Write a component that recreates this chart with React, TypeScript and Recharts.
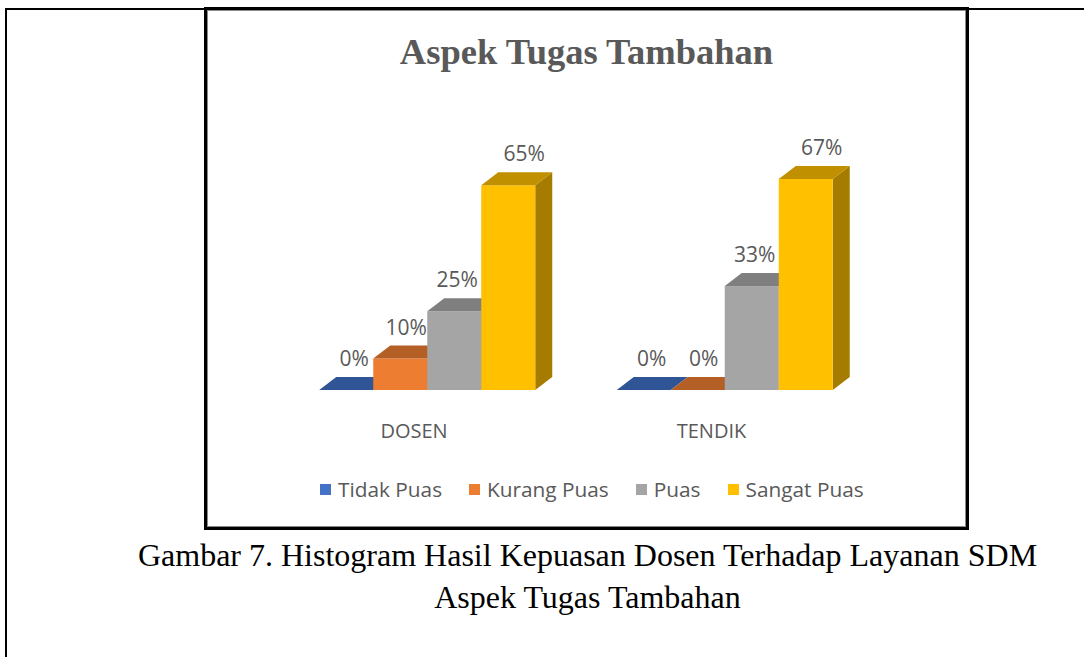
import { BarChart, Bar, XAxis, YAxis, LabelList } from 'recharts';

const categories = ['DOSEN', 'TENDIK'];
const tidakPuas = [0, 0];
const kurangPuas = [10, 0];
const puas = [25, 33];
const sangatPuas = [65, 67];

const seriesNames = ['Tidak Puas', 'Kurang Puas', 'Puas', 'Sangat Puas'];

const chartData = categories.map((name, i) => ({
  name,
  tidak: tidakPuas[i],
  kurang: kurangPuas[i],
  puas: puas[i],
  sangat: sangatPuas[i],
}));

const series = [
  { key: 'tidak', front: '#4472C4', top: '#2F5597', side: '#2F528F', labelDx: 8 },
  { key: 'kurang', front: '#ED7D31', top: '#B45F26', side: '#AE5A21', labelDx: 6 },
  { key: 'puas', front: '#A5A5A5', top: '#7F7F7F', side: '#7C7C7C', labelDx: 3 },
  { key: 'sangat', front: '#FFC000', top: '#C09000', side: '#A67C00', labelDx: 16 },
];

const DX = 17;
const DY = 13;
const textGray = '#595959';
const sans = '"Open Sans", sans-serif';

// 3d box: front face, top face, right side
const Box3D = (colors: { front: string; top: string; side: string }) => (props: any) => {
  const { x, y, width, height } = props;
  const w = width;
  const h = Math.max(height || 0, 0);
  return (
    <g>
      <polygon
        points={`${x + w},${y} ${x + w + DX},${y - DY} ${x + w + DX},${y + h - DY} ${x + w},${y + h}`}
        fill={colors.side}
      />
      <rect x={x} y={y} width={w} height={h} fill={colors.front} />
      <polygon
        points={`${x},${y} ${x + w},${y} ${x + w + DX},${y - DY} ${x + DX},${y - DY}`}
        fill={colors.top}
      />
    </g>
  );
};

const ValueLabel = (dx: number) => (props: any) => {
  const { x, y, width, value } = props;
  return (
    <text
      x={x + width / 2 + dx}
      y={y - DY - 11}
      textAnchor='middle'
      fill={textGray}
      fontFamily={sans}
      fontSize={21}
    >
      {value}%
    </text>
  );
};

const CategoryTick = (props: any) => {
  const { x, y, payload } = props;
  return (
    <text
      x={x - 13}
      y={y + 40}
      textAnchor='middle'
      fill={textGray}
      fontFamily={sans}
      fontSize={20}
    >
      {payload.value}
    </text>
  );
};

const App = () => {
  return (
    <div style={{ position: 'absolute', left: 0, top: 0, width: 1084, height: 657, background: '#fff' }}>
      {/* outer table cell */}
      <div
        style={{
          position: 'absolute',
          left: 5,
          top: 8,
          width: 1079,
          height: 649,
          borderLeft: '2px solid #000',
          borderTop: '2px solid #000',
          boxSizing: 'border-box',
        }}
      />
      {/* chart frame */}
      <div
        style={{
          position: 'absolute',
          left: 204,
          top: 7,
          width: 765,
          height: 523,
          border: '3px solid #000',
          boxShadow: 'inset 0 0 0 1px #8a8a8a',
          boxSizing: 'border-box',
          background: '#fff',
        }}
      />
      <div
        style={{
          position: 'absolute',
          left: 205,
          top: 34,
          width: 763,
          textAlign: 'center',
          fontFamily: '"Liberation Serif", serif',
          fontWeight: 'bold',
          fontSize: 36.5,
          lineHeight: '36px',
          color: textGray,
        }}
      >
        Aspek Tugas Tambahan
      </div>
      <div style={{ position: 'absolute', left: 207, top: 10 }}>
        <BarChart
          width={759}
          height={517}
          data={chartData}
          margin={{ top: 159.5, right: 92.75, bottom: 107, left: 71.25 }}
          barGap={0}
        >
          <XAxis
            dataKey='name'
            axisLine={false}
            tickLine={false}
            height={30}
            tick={<CategoryTick />}
            interval={0}
          />
          <YAxis hide domain={[0, 70]} />
          {series.map((s, i) => (
            <Bar
              key={s.key}
              dataKey={s.key}
              name={seriesNames[i]}
              barSize={54}
              fill={s.front}
              shape={Box3D(s)}
              isAnimationActive={false}
            >
              <LabelList dataKey={s.key} content={ValueLabel(s.labelDx)} />
            </Bar>
          ))}
        </BarChart>
      </div>
      {/* legend */}
      <div
        style={{
          position: 'absolute',
          left: 320,
          top: 477,
          display: 'flex',
          alignItems: 'center',
          fontFamily: sans,
          fontSize: 20.8,
          lineHeight: '24px',
          color: textGray,
          whiteSpace: 'nowrap',
        }}
      >
        {series.map((s, i) => (
          <div key={s.key} style={{ display: 'flex', alignItems: 'center', marginRight: 27 }}>
            <span style={{ display: 'inline-block', width: 11, height: 11, background: s.front, marginRight: 7 }} />
            <span>{seriesNames[i]}</span>
          </div>
        ))}
      </div>
      {/* caption */}
      <div
        style={{
          position: 'absolute',
          left: 0,
          top: 534,
          width: 1175,
          textAlign: 'center',
          fontFamily: '"Liberation Serif", serif',
          fontSize: 32,
          lineHeight: '42px',
          color: '#000',
        }}
      >
        <div>Gambar 7. Histogram Hasil Kepuasan Dosen Terhadap Layanan SDM</div>
        <div>Aspek Tugas Tambahan</div>
      </div>
    </div>
  );
};

export default App;
